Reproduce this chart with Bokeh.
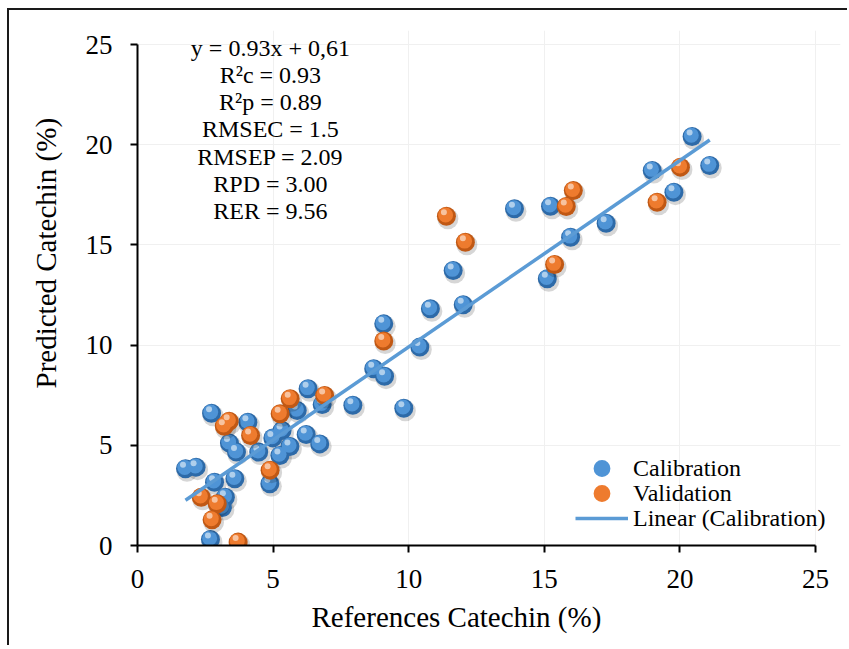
import numpy as np
from bokeh.plotting import figure
from bokeh.models import Range1d, Label, Legend, LegendItem, Title
from bokeh.embed import file_html
from bokeh.resources import INLINE

# ---------------- data ----------------
cal_x = [1.77, 2.16, 2.69, 2.73, 2.84, 3.13, 3.24, 3.39, 3.59, 3.65, 4.07, 4.47,
         4.88, 4.99, 5.25, 5.33, 5.62, 5.89, 6.22, 6.29, 6.72, 6.81, 7.94, 8.71,
         9.08, 9.11, 9.82, 10.41, 10.80, 11.64, 12.01, 13.90, 15.11, 15.23, 15.97,
         17.28, 18.98, 19.78, 20.45, 21.10]
cal_y = [3.83, 3.91, 0.30, 6.60, 3.16, 1.90, 2.41, 5.11, 3.33, 4.66, 6.15, 4.66,
         3.08, 5.37, 4.49, 5.74, 4.94, 6.74, 5.54, 7.82, 5.07, 7.03, 7.00, 8.82,
         11.06, 8.45, 6.85, 9.90, 11.81, 13.72, 12.01, 16.80, 13.31, 16.93, 15.38,
         16.08, 18.71, 17.63, 20.41, 18.96]
val_x = [2.35, 2.75, 2.94, 3.20, 3.38, 3.71, 4.17, 4.89, 5.26, 5.63, 6.90, 9.08,
         11.39, 12.09, 15.38, 15.81, 16.07, 19.16, 20.02]
val_y = [2.41, 1.28, 2.08, 5.95, 6.20, 0.17, 5.49, 3.76, 6.57, 7.32, 7.49, 10.20,
         16.43, 15.13, 14.02, 16.92, 17.71, 17.13, 18.88]
slope = 0.93
intercept = 0.61
ticks = [0, 5, 10, 15, 20, 25]
axis_max = 25
stats_lines = ["y = 0.93x + 0,61", "R\u00b2c = 0.93", "R\u00b2p = 0.89", "RMSEC = 1.5",
               "RMSEP = 2.09", "RPD = 3.00", "RER = 9.56"]
series_names = ["Calibration", "Validation", "Linear (Calibration)"]
x_title = "References Catechin (%)"
y_title = "Predicted Catechin (%)"

# ---------------- layout ----------------
FONT = "Liberation Serif"
W, H = 847, 645
B_LEFT, B_RIGHT, B_TOP, B_BOTTOM = 137, 7, 30, 100
PX_PER_X = 678 / 25.0      # pixels per x unit
PX_PER_Y = 501 / 25.0      # pixels per y unit
frame_w = W - B_LEFT - B_RIGHT
frame_h = H - B_TOP - B_BOTTOM
x_end = frame_w / PX_PER_X
y_end = frame_h / PX_PER_Y

p = figure(width=W, height=H, x_range=Range1d(0, x_end), y_range=Range1d(0, y_end),
           output_backend="svg", toolbar_location=None,
           min_border_left=B_LEFT, min_border_right=B_RIGHT,
           min_border_top=B_TOP, min_border_bottom=B_BOTTOM)
# thin chart-area frame (left and top edges) drawn behind the transparent border area
p.styles = {
    "background-color": "white",
    "background-image": "linear-gradient(#1a1a1a, #1a1a1a), linear-gradient(#1a1a1a, #1a1a1a)",
    "background-size": "2px 100%, 100% 2px",
    "background-position": "7px 8px, 7px 8px",
    "background-repeat": "no-repeat",
}
p.outline_line_color = None
p.background_fill_color = "white"
p.border_fill_alpha = 0

for ax in (p.xaxis[0], p.yaxis[0]):
    ax.ticker = ticks
    ax.bounds = (0, axis_max)
    ax.axis_line_color = "black"
    ax.axis_line_width = 2
    ax.major_tick_line_color = "black"
    ax.major_tick_line_width = 2
    ax.major_tick_in = 0
    ax.major_tick_out = 7
    ax.minor_tick_line_color = None
    ax.major_label_text_font = FONT
    ax.major_label_text_font_size = "27px"
    ax.major_label_text_color = "black"

p.xaxis.major_label_standoff = 17
p.yaxis.major_label_standoff = 18

# axis titles (placed as side-panel titles so they can sit off-centre like the original)
xt = Title(text=x_title, align="left", offset=174, vertical_align="top", standoff=20,
           text_font=FONT, text_font_size="29px", text_font_style="normal",
           text_color="black")
p.add_layout(xt, "below")
yt = Title(text=y_title, align="left", offset=157, vertical_align="top", standoff=37,
           text_font=FONT, text_font_size="29px", text_font_style="normal",
           text_color="black")
p.add_layout(yt, "left")

p.xgrid.ticker = ticks
p.ygrid.ticker = ticks
p.xgrid.bounds = (0, axis_max)
p.ygrid.bounds = (0, axis_max)
p.xgrid.grid_line_color = "#f0f0f0"
p.ygrid.grid_line_color = "#f0f0f0"


def sphere(xs, ys, edge, main):
    xs = np.asarray(xs, dtype=float)
    ys = np.asarray(ys, dtype=float)
    sh = p.scatter(xs + 1.5 / PX_PER_X, ys - 2.5 / PX_PER_Y, size=21, fill_color="black",
                   fill_alpha=0.16, line_color=None)
    b = p.scatter(xs, ys, size=19, fill_color=edge, line_color=None)
    m = p.scatter(xs - 0.8 / PX_PER_X, ys + 1.2 / PX_PER_Y, size=15, fill_color=main,
                  line_color=None)
    h = p.scatter(xs - 2.5 / PX_PER_X, ys + 4.0 / PX_PER_Y, size=6, fill_color="white",
                  fill_alpha=0.55, line_color=None)
    return [sh, b, m, h]


cal_r = sphere(cal_x, cal_y, "#2d6aa8", "#4f94d6")
val_r = sphere(val_x, val_y, "#c05814", "#ee7b2e")

lx = np.array([min(cal_x), max(cal_x)])
line_r = p.line(lx, slope * lx + intercept, line_color="#5b9bd5", line_width=3.5)

# one legend box per entry so the rows can sit 25 px apart with large markers
LEG_X = 438
LEG_Y = [56, 31, 6]
leg_renderers = [[cal_r[2]], [val_r[2]], [line_r]]
for name, rends, ly in zip(series_names, leg_renderers, LEG_Y):
    lg = Legend(items=[LegendItem(label=name, renderers=rends)], location=(LEG_X, ly))
    lg.label_text_font = FONT
    lg.label_text_font_size = "24px"
    lg.label_text_color = "black"
    lg.glyph_width = 53
    lg.glyph_height = 42
    lg.label_standoff = 5
    lg.spacing = 0
    lg.padding = 0
    lg.margin = 0
    lg.border_line_color = None
    lg.background_fill_alpha = 0
    p.add_layout(lg, "center")

# stats text block
STATS_X = 4.90
STATS_Y0 = 24.85
STATS_DY = 27.3 / PX_PER_Y
for i, t in enumerate(stats_lines):
    p.add_layout(Label(x=STATS_X, y=STATS_Y0 - i * STATS_DY, text=t, text_align="center",
                       text_baseline="middle", text_font=FONT,
                       text_font_size="24px", text_color="black"))

open("out.html", "w").write(file_html(p, INLINE))
